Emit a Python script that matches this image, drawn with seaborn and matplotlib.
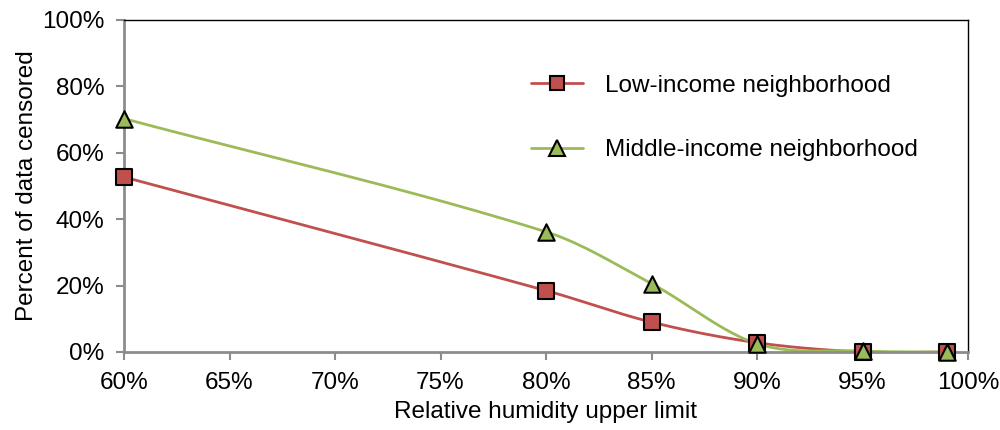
import numpy as np
import matplotlib
matplotlib.use("Agg")
import matplotlib.pyplot as plt
from matplotlib.lines import Line2D
from matplotlib.ticker import FuncFormatter
import seaborn as sns

# Relative humidity upper limit (%) and share of data censored (%)
humidity = [60, 80, 85, 90, 95, 99]
low_income = [52.7, 18.5, 9.0, 2.8, 0.0, 0.0]
middle_income = [70.3, 36.2, 20.6, 2.5, 0.3, 0.0]

series_names = ["Low-income neighborhood", "Middle-income neighborhood"]
x_tick_values = [60, 65, 70, 75, 80, 85, 90, 95, 100]
y_tick_values = [0, 20, 40, 60, 80, 100]

RED = "#C0504D"
GREEN = "#9BBB59"
FS = 17.5


def smooth_curve(xs, ys, steps=60):
    """Cubic Hermite smoothing with finite-difference slopes."""
    x = np.asarray(xs, float)
    y = np.asarray(ys, float)
    n = len(x)
    m = np.empty(n)
    m[0] = (y[1] - y[0]) / (x[1] - x[0])
    m[-1] = (y[-1] - y[-2]) / (x[-1] - x[-2])
    for i in range(1, n - 1):
        m[i] = (y[i + 1] - y[i - 1]) / (x[i + 1] - x[i - 1])
    out_x, out_y = [], []
    for i in range(n - 1):
        h = x[i + 1] - x[i]
        t = np.linspace(0, 1, steps)
        h00 = 2 * t**3 - 3 * t**2 + 1
        h10 = t**3 - 2 * t**2 + t
        h01 = -2 * t**3 + 3 * t**2
        h11 = t**3 - t**2
        seg_y = h00 * y[i] + h10 * h * m[i] + h01 * y[i + 1] + h11 * h * m[i + 1]
        seg_x = x[i] + t * h
        if i > 0:
            seg_x, seg_y = seg_x[1:], seg_y[1:]
        out_x.append(seg_x)
        out_y.append(seg_y)
    return np.concatenate(out_x), np.concatenate(out_y)


sns.set_theme(style="white")
plt.rcParams["font.family"] = ["Liberation Sans", "DejaVu Sans"]
plt.rcParams["text.color"] = "black"
plt.rcParams["axes.labelcolor"] = "black"

fig = plt.figure(figsize=(10, 4.3), dpi=100)
ax = fig.add_axes([0.124, 0.1814, 0.844, 0.7721])

for ys, color, marker, msize in [
    (low_income, RED, "s", 120),
    (middle_income, GREEN, "^", 140),
]:
    sx, sy = smooth_curve(humidity, ys)
    sns.lineplot(x=sx, y=sy, color=color, linewidth=2, ax=ax, sort=False,
                 estimator=None, zorder=2)
    sns.scatterplot(x=humidity, y=ys, color=color, marker=marker, s=msize,
                    edgecolor="black", linewidth=1.5, ax=ax, zorder=3,
                    clip_on=False)

ax.set_xlim(60, 100)
ax.set_ylim(0, 100)
ax.set_xticks(x_tick_values)
ax.set_yticks(y_tick_values)
ax.xaxis.set_major_formatter(FuncFormatter(lambda v, _: f"{v:.0f}%"))
ax.yaxis.set_major_formatter(FuncFormatter(lambda v, _: f"{v:.0f}%"))

for side in ["left", "bottom"]:
    ax.spines[side].set_color("#8C8C8C")
    ax.spines[side].set_linewidth(2)
for side in ["top", "right"]:
    ax.spines[side].set_color("black")
    ax.spines[side].set_linewidth(1)
    ax.spines[side].set_visible(True)

ax.tick_params(axis="both", which="major", direction="out", length=6, width=1.5,
               color="#8C8C8C", labelsize=FS, labelcolor="black",
               bottom=True, left=True)
ax.tick_params(axis="y", pad=8)
ax.tick_params(axis="x", pad=8.5)

ax.set_xlabel("Relative humidity upper limit", fontsize=FS, labelpad=5,
              color="black")
ax.set_ylabel("Percent of data censored", fontsize=FS, labelpad=3,
              color="black")

handles = [
    Line2D([0], [0], color=RED, lw=2, marker="s", markersize=10.5,
           markerfacecolor=RED, markeredgecolor="black", markeredgewidth=1.5),
    Line2D([0], [0], color=GREEN, lw=2, marker="^", markersize=11,
           markerfacecolor=GREEN, markeredgecolor="black", markeredgewidth=1.5),
]
leg = fig.legend(handles, series_names, loc="upper left",
                 bbox_to_anchor=(0.531, 0.826), frameon=False, fontsize=FS,
                 handlelength=2.15, handletextpad=0.9, labelspacing=1.75,
                 borderpad=0, borderaxespad=0)
for txt in leg.get_texts():
    txt.set_color("black")

fig.savefig("out.png", dpi=100)
